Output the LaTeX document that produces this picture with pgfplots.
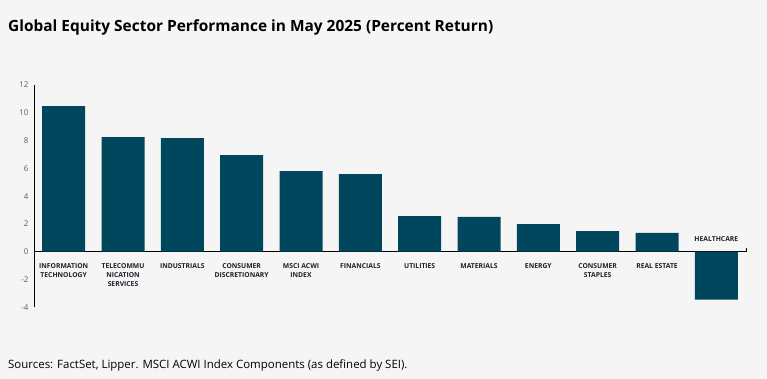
\documentclass[border=0pt]{standalone}
\usepackage{pgfplots}
\pgfplotsset{compat=1.18}
\usepackage{fontspec}
\setmainfont{Open Sans}
\definecolor{barc}{HTML}{00475E}
\definecolor{bgc}{HTML}{F5F5F5}
\definecolor{lblc}{HTML}{1E1E2A}
\definecolor{tickc}{HTML}{5A5A5A}
\begin{document}
\begin{tikzpicture}
\fill[bgc] (0bp,0bp) rectangle (767bp,379bp);
\node[anchor=base west, inner sep=0pt, font=\bfseries\fontsize{15.5}{18}\selectfont, text=black] at (8bp,347bp) {Global Equity Sector Performance in May 2025 (Percent Return)};
\node[anchor=base west, inner sep=0pt, font=\fontsize{11.5}{13}\selectfont, text=black] at (8bp,10.7bp) {Sources: FactSet, Lipper. MSCI ACWI Index Components (as defined by SEI).};
\begin{axis}[
  at={(34bp,71.7bp)}, anchor=south west,
  scale only axis, width=712bp, height=222.3bp,
  xmin=-0.5, xmax=11.5, ymin=-4, ymax=12,
  separate axis lines,
  axis x line*=middle, axis y line*=left,
  axis line style={black, line width=0.9pt},
  xtick={0,...,11},
  xticklabels={{INFORMATION\\TECHNOLOGY},{TELECOMMU\\NICATION\\SERVICES},{INDUSTRIALS},{CONSUMER\\DISCRETIONARY},{MSCI ACWI\\INDEX},{FINANCIALS},{UTILITIES},{MATERIALS},{ENERGY},{CONSUMER\\STAPLES},{REAL ESTATE},{}},
  xticklabel style={align=center, font=\bfseries\fontsize{6.8}{9}\selectfont, text=lblc, anchor=north, yshift=-8bp},
  ytick={-4,-2,0,2,4,6,8,10,12},
  yticklabel style={font=\fontsize{8}{9}\selectfont, text=tickc, xshift=-2bp},
  major tick length=0pt,
  /pgf/number format/assume math mode=true,
  clip=false,
]
\addplot[ybar, bar width=43bp, fill=barc, draw=none] coordinates {
(0,10.48) (1,8.25) (2,8.18) (3,6.96) (4,5.81) (5,5.59) (6,2.57) (7,2.50) (8,1.99) (9,1.49) (10,1.35) (11,-3.45)};
\node[font=\bfseries\fontsize{6.8}{9}\selectfont, text=lblc, anchor=base] at (axis cs:11,0.72) {HEALTHCARE};
\draw[black, line width=0.9pt] (axis cs:11.5,0) -- (axis cs:11.5,0.25);
\end{axis}
\end{tikzpicture}
\end{document}
